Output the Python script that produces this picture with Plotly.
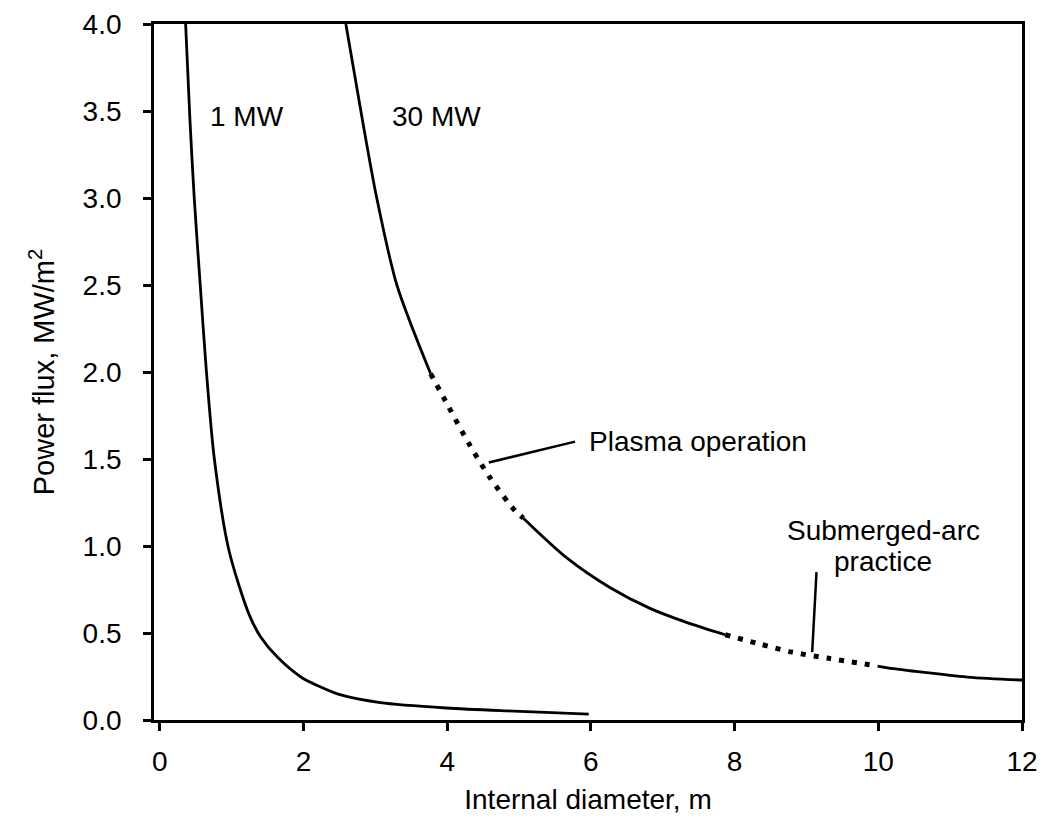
import plotly.graph_objects as go

# ---- data ----
# 1 MW curve (internal diameter m, power flux MW/m2)
d_1mw = [0.36, 0.42, 0.48, 0.565, 0.65, 0.76, 0.96, 1.24, 1.40, 1.64, 1.99, 2.24, 2.52, 3.07, 3.99, 4.84, 5.97]
f_1mw = [4.00, 3.45, 3.00, 2.49, 2.00, 1.50, 0.98, 0.61, 0.48, 0.36, 0.24, 0.19, 0.144, 0.10, 0.069, 0.052, 0.034]

# 30 MW curve, split into solid / dotted sections
d_30_a = [2.59, 2.82, 3.02, 3.30, 3.77]
f_30_a = [4.00, 3.45, 3.00, 2.50, 1.99]
d_30_plasma = [3.77, 4.02, 4.30, 4.60, 4.95, 5.06]
f_30_plasma = [1.99, 1.80, 1.59, 1.39, 1.20, 1.16]
d_30_b = [5.06, 5.67, 6.27, 6.83, 7.34, 7.87]
f_30_b = [1.16, 0.93, 0.76, 0.64, 0.56, 0.49]
d_30_sub = [7.87, 8.32, 8.80, 9.29, 9.99]
f_30_sub = [0.49, 0.44, 0.39, 0.356, 0.31]
d_30_c = [9.99, 10.13, 11.24, 12.0]
f_30_c = [0.31, 0.30, 0.247, 0.23]

x_ticks = [0, 2, 4, 6, 8, 10, 12]
y_ticks = [0.0, 0.5, 1.0, 1.5, 2.0, 2.5, 3.0, 3.5, 4.0]
y_ticktext = ["0.0", "0.5", "1.0", "1.5", "2.0", "2.5", "3.0", "3.5", "4.0"]

curve_labels = ["1 MW", "30 MW"]
curve_label_x = [1.22, 3.85]
curve_label_y = [3.47, 3.47]

plasma_text = "Plasma operation"
plasma_text_xy = (5.95, 1.60)
plasma_leader = [(4.58, 1.48), (5.78, 1.60)]

sub_lines = ["Submerged-arc", "practice"]
sub_lines_x = [10.07, 10.07]
sub_lines_y = [1.09, 0.91]
sub_leader = [(9.14, 0.85), (9.08, 0.39)]

FONT = "Liberation Sans, Arial, Helvetica, sans-serif"
FS = 28

fig = go.Figure()
solid = dict(color="black", width=2.8)
dotted = dict(color="black", width=5, dash="5px,8px")

fig.add_trace(go.Scatter(x=d_1mw, y=f_1mw, mode="lines", line=dict(solid, shape="spline", smoothing=0.8),
                         showlegend=False))
for xs, ys, ln in [(d_30_a, f_30_a, solid), (d_30_plasma, f_30_plasma, dotted),
                   (d_30_b, f_30_b, solid), (d_30_sub, f_30_sub, dotted),
                   (d_30_c, f_30_c, solid)]:
    fig.add_trace(go.Scatter(x=xs, y=ys, mode="lines", line=dict(ln, shape="spline", smoothing=0.8),
                             showlegend=False))

for t, x, y in zip(curve_labels, curve_label_x, curve_label_y):
    fig.add_annotation(x=x, y=y, text=t, showarrow=False, font=dict(family=FONT, size=FS, color="black"))

fig.add_annotation(x=plasma_text_xy[0], y=plasma_text_xy[1], text=plasma_text, showarrow=False,
                   xanchor="left", font=dict(family=FONT, size=FS, color="black"))
for t, x, y in zip(sub_lines, sub_lines_x, sub_lines_y):
    fig.add_annotation(x=x, y=y, text=t, showarrow=False,
                       font=dict(family=FONT, size=FS, color="black"))

for (p0, p1) in [plasma_leader, sub_leader]:
    fig.add_shape(type="line", x0=p0[0], y0=p0[1], x1=p1[0], y1=p1[1],
                  xref="x", yref="y", line=dict(color="black", width=2.5))

fig.update_layout(
    width=1041, height=819,
    margin=dict(l=154, r=19, t=24, b=99, autoexpand=False),
    paper_bgcolor="white", plot_bgcolor="white",
    showlegend=False,
    font=dict(family=FONT, size=FS, color="black"),
)
fig.update_xaxes(range=[-0.08, 12.0], tickvals=x_ticks, ticks="outside", ticklen=8, tickwidth=2.5,
                 tickcolor="black", showline=True, linecolor="black", linewidth=2.8, mirror=True,
                 showgrid=False, zeroline=False, ticklabelstandoff=6, automargin=False,
                 tickfont=dict(family=FONT, size=FS),
                 title=dict(text="Internal diameter, m", font=dict(family=FONT, size=FS), standoff=14))
fig.update_yaxes(range=[0, 4.0], tickvals=y_ticks, ticktext=y_ticktext, ticks="outside", ticklen=8,
                 tickwidth=2.5, tickcolor="black", showline=True, linecolor="black", linewidth=2.8,
                 mirror=True, showgrid=False, zeroline=False, ticklabelstandoff=16, automargin=False,
                 tickfont=dict(family=FONT, size=FS),
                 title=dict(text="Power flux, MW/m<sup>2</sup>", font=dict(family=FONT, size=29), standoff=20))

fig.write_html("out.html")
